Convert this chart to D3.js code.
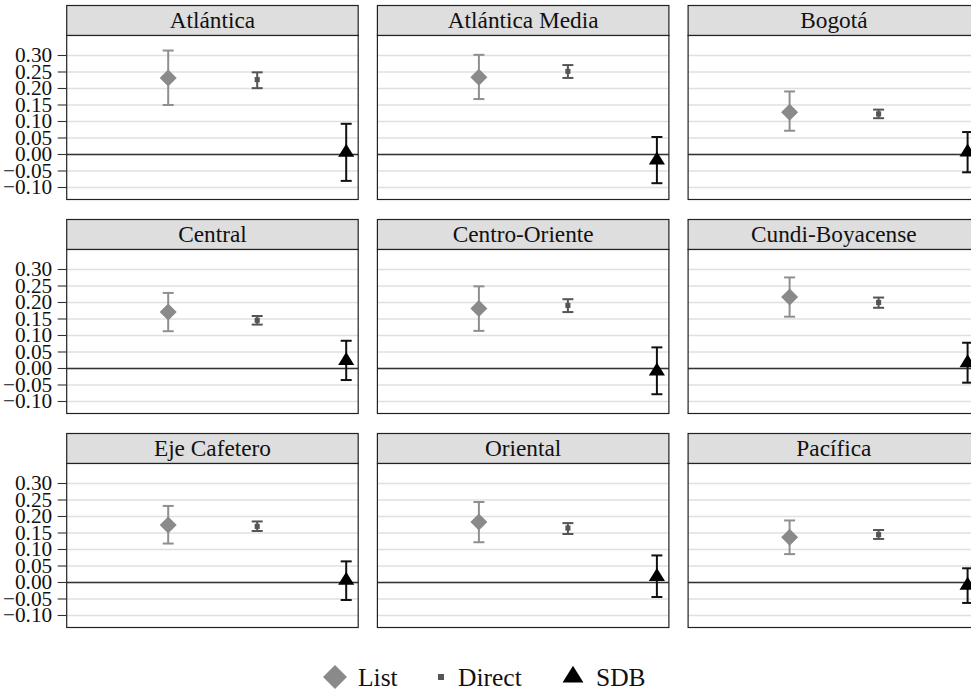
<!DOCTYPE html>
<html lang="en">
  <head>
    <meta charset="UTF-8" />
    <title>List vs Direct vs SDB by region</title>
    <script src="https://cdn.jsdelivr.net/npm/d3@7"></script>
    <style>
      body { margin: 0; background: #fff; }
      svg { display: block; }
    </style>
  </head>
  <body>
    <div id="chart"></div>
    <script>
      // data
      let regions = ["Atlántica", "Atlántica Media", "Bogotá",
                     "Central", "Centro-Oriente", "Cundi-Boyacense",
                     "Eje Cafetero", "Oriental", "Pacífica"];
      let methods = ["List", "Direct", "SDB"];

      let listEst = [0.232, 0.234, 0.128, 0.171, 0.182, 0.217, 0.174, 0.183, 0.137];
      let listLo  = [0.150, 0.168, 0.072, 0.113, 0.114, 0.157, 0.118, 0.122, 0.086];
      let listHi  = [0.315, 0.302, 0.191, 0.229, 0.249, 0.276, 0.232, 0.244, 0.188];

      let directEst = [0.227, 0.252, 0.123, 0.146, 0.191, 0.200, 0.170, 0.165, 0.145];
      let directLo  = [0.201, 0.232, 0.110, 0.133, 0.171, 0.184, 0.156, 0.147, 0.132];
      let directHi  = [0.249, 0.271, 0.136, 0.159, 0.210, 0.215, 0.185, 0.180, 0.159];

      let sdbEst = [0.006, -0.017, 0.007, 0.024, -0.008, 0.017, 0.006, 0.018, -0.009];
      let sdbLo  = [-0.080, -0.087, -0.054, -0.035, -0.078, -0.043, -0.053, -0.044, -0.062];
      let sdbHi  = [0.093, 0.053, 0.068, 0.084, 0.064, 0.078, 0.064, 0.082, 0.043];

      let yTicks = [-0.10, -0.05, 0.00, 0.05, 0.10, 0.15, 0.20, 0.25, 0.30];

      // layout
      let width = 971, height = 691;
      let panelW = 291.5, plotH = 164, stripH = 30;
      let colX = [66.7, 377.4, 688.1];
      let rowY = [5.5, 219.5, 433.5];
      let serif = '"Liberation Serif"';

      let svg = d3.select("#chart").append("svg")
        .attr("width", width)
        .attr("height", height);

      let y = d3.scaleLinear().domain([-0.1364, 0.3606]).range([plotH, 0]);
      let x = d3.scalePoint().domain(methods).range([101.5, 279.5]);

      let style = {
        List:   { bar: "#8f8f8f", fill: "#8a8a8a" },
        Direct: { bar: "#555555", fill: "#555555" },
        SDB:    { bar: "#111111", fill: "#000000" }
      };

      function shape(method, s) {
        // s = half size
        if (method === "List") {
          return `M0,${-s}L${s},0L0,${s}L${-s},0Z`;
        } else if (method === "Direct") {
          let h = s * 0.3;
          return `M${-h},${-h}H${h}V${h}H${-h}Z`;
        } else {
          let w = s * 0.95, hh = s * 1.53;
          return `M0,${-hh * 2 / 3}L${w},${hh / 3}L${-w},${hh / 3}Z`;
        }
      }

      let fmt = d3.format(".2f");

      regions.forEach(function (name, i) {
        let col = i % 3, row = Math.floor(i / 3);
        let g = svg.append("g")
          .attr("transform", `translate(${colX[col]},${rowY[row]})`);

        // strip
        g.append("rect")
          .attr("width", panelW).attr("height", stripH)
          .attr("fill", "#dedede").attr("stroke", "#222").attr("stroke-width", 1.2);
        g.append("text")
          .attr("x", panelW / 2).attr("y", 22)
          .attr("text-anchor", "middle")
          .style("font-family", serif)
          .style("font-size", "23.3px")
          .attr("fill", "#111")
          .text(name);

        let p = g.append("g").attr("transform", `translate(0,${stripH})`);

        p.append("rect")
          .attr("width", panelW).attr("height", plotH)
          .attr("fill", "#fff");

        p.selectAll("line.grid")
          .data(yTicks)
          .enter().append("line")
          .attr("class", "grid")
          .attr("x1", 0).attr("x2", panelW)
          .attr("y1", d => y(d)).attr("y2", d => y(d))
          .attr("stroke", "#e0e0e0").attr("stroke-width", 1.4);

        p.append("line")
          .attr("x1", 0).attr("x2", panelW)
          .attr("y1", y(0)).attr("y2", y(0))
          .attr("stroke", "#333").attr("stroke-width", 1.4);

        let pts = [
          { m: "List", est: listEst[i], lo: listLo[i], hi: listHi[i] },
          { m: "Direct", est: directEst[i], lo: directLo[i], hi: directHi[i] },
          { m: "SDB", est: sdbEst[i], lo: sdbLo[i], hi: sdbHi[i] }
        ];

        let eb = p.selectAll("g.eb").data(pts).enter().append("g")
          .attr("class", "eb")
          .attr("stroke", d => style[d.m].bar)
          .attr("stroke-width", 2);
        eb.append("line")
          .attr("x1", d => x(d.m)).attr("x2", d => x(d.m))
          .attr("y1", d => y(d.lo)).attr("y2", d => y(d.hi));
        eb.append("line")
          .attr("x1", d => x(d.m) - 5.5).attr("x2", d => x(d.m) + 5.5)
          .attr("y1", d => y(d.lo)).attr("y2", d => y(d.lo));
        eb.append("line")
          .attr("x1", d => x(d.m) - 5.5).attr("x2", d => x(d.m) + 5.5)
          .attr("y1", d => y(d.hi)).attr("y2", d => y(d.hi));

        p.selectAll("path.pt").data(pts).enter().append("path")
          .attr("class", "pt")
          .attr("transform", d => `translate(${x(d.m)},${y(d.est)})`)
          .attr("d", d => shape(d.m, 8.5))
          .attr("fill", d => style[d.m].fill);

        p.append("rect")
          .attr("width", panelW).attr("height", plotH)
          .attr("fill", "none").attr("stroke", "#222").attr("stroke-width", 1.2);

        // y axis only on the first column
        if (col === 0) {
          let ax = p.append("g");
          ax.selectAll("line").data(yTicks).enter().append("line")
            .attr("x1", -9).attr("x2", 0)
            .attr("y1", d => y(d)).attr("y2", d => y(d))
            .attr("stroke", "#333").attr("stroke-width", 1.1);
          ax.selectAll("text").data(yTicks).enter().append("text")
            .attr("x", -14.5)
            .attr("y", d => y(d) + 6.8)
            .attr("text-anchor", "end")
            .style("font-family", serif)
            .style("font-size", "21.3px")
            .attr("fill", "#111")
            .text(d => fmt(d));
        }
      });

      // legend
      let legendX = [335, 441, 573];
      let legend = svg.append("g").attr("transform", "translate(0,677)")
        .selectAll("g").data(methods).enter().append("g")
        .attr("transform", (d, i) => `translate(${legendX[i]},0)`);
      legend.append("path")
        .attr("d", d => shape(d, d === "SDB" ? 11 : d === "List" ? 12 : 10))
        .attr("fill", d => style[d].fill);
      legend.append("text")
        .attr("x", d => d === "Direct" ? 17 : 23)
        .attr("y", 8.5)
        .style("font-family", serif)
        .style("font-size", "25.5px")
        .attr("fill", "#111")
        .text(d => d);
    </script>
  </body>
</html>
